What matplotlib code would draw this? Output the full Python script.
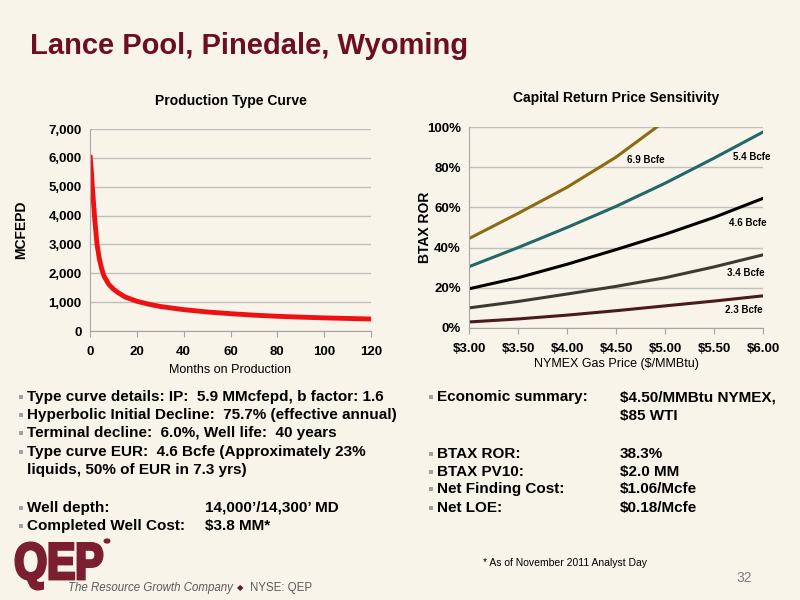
import numpy as np
import matplotlib
matplotlib.use("Agg")
from matplotlib import pyplot as plt
from matplotlib.textpath import TextPath
from matplotlib.patches import PathPatch, Circle
from matplotlib.font_manager import FontProperties
from matplotlib.transforms import Affine2D

# production type curve
months = [0, 0.5, 1, 2, 3, 4, 5, 6, 8, 10, 12, 15, 20, 25, 30, 40, 50, 60, 70, 80, 90, 100, 110, 120]
mcfepd = [6100, 5650, 5000, 3900, 3000, 2500, 2150, 1900, 1620, 1450, 1330, 1180, 1030, 930, 850,
          740, 660, 600, 550, 510, 480, 455, 435, 415]

# price sensitivity
prices = [3.00, 3.50, 4.00, 4.50, 5.00, 5.50, 6.00]
ror_69 = [44.5, 57, 70, 85, 103, 121, 140]
ror_54 = [30.5, 40, 50, 60.5, 72, 84.5, 97.5]
ror_46 = [19.5, 25, 31.7, 39, 46.6, 55, 64.5]
ror_34 = [10, 13.2, 16.9, 20.7, 25, 30.4, 36.4]
ror_23 = [3, 4.5, 6.4, 8.6, 11, 13.4, 16]
series_names = ["6.9 Bcfe", "5.4 Bcfe", "4.6 Bcfe", "3.4 Bcfe", "2.3 Bcfe"]

left_lines = [
    "Type curve details: IP:  5.9 MMcfepd, b factor: 1.6",
    "Hyperbolic Initial Decline:  75.7% (effective annual)",
    "Terminal decline:  6.0%, Well life:  40 years",
    "Type curve EUR:  4.6 Bcfe (Approximately 23%",
]
right_keys = ["Economic summary:", "BTAX ROR:", "BTAX PV10:", "Net Finding Cost:", "Net LOE:"]
right_vals = ["$4.50/MMBtu NYMEX,", "38.3%", "$2.0 MM", "$1.06/Mcfe", "$0.18/Mcfe"]

bg = "#f8f4ea"
maroon = "#6b0f24"
FONT = ["Liberation Sans", "DejaVu Sans"]
plt.rcParams["font.family"] = FONT

fig = plt.figure(figsize=(8, 6), dpi=100, facecolor=bg)


def px(x, y):
    return x / 800, 1 - y / 600


fig.text(*px(30, 46), "Lance Pool, Pinedale, Wyoming", fontsize=21, fontweight="bold",
         color=maroon, va="center", ha="left")

# ---- left chart
ax1 = fig.add_axes([90 / 800, 1 - 331 / 600, 281 / 800, 202 / 600], facecolor=bg)
ax1.plot(months, mcfepd, color="#ee1111", lw=3.5, solid_capstyle="butt")
ax1.set_xlim(0, 120)
ax1.set_ylim(0, 7000)
ax1.set_xticks(range(0, 121, 20))
ax1.set_yticks(range(0, 7001, 1000))
ax1.set_yticklabels(["{:,}".format(v) for v in range(0, 7001, 1000)])
ax1.grid(axis="y", color="#bfbfbf", lw=1)
ax1.set_axisbelow(True)
for s in ["top", "right"]:
    ax1.spines[s].set_visible(False)
for s in ["left", "bottom"]:
    ax1.spines[s].set_color("#a6a6a6")
ax1.tick_params(axis="y", length=0, pad=6, labelsize=9.5)
ax1.tick_params(axis="x", direction="out", length=4, color="#a6a6a6", pad=7, labelsize=9.5)
for lb in ax1.get_xticklabels() + ax1.get_yticklabels():
    lb.set_fontweight("bold")
ax1.set_title("Production Type Curve", fontsize=10, fontweight="bold", pad=17)
ax1.set_xlabel("Months on Production", fontsize=9, labelpad=4)
ax1.set_ylabel("MCFEPD", fontsize=10, fontweight="bold")
ax1.yaxis.set_label_coords(-0.221, 0.5)

# ---- right chart
ax2 = fig.add_axes([469 / 800, 1 - 328 / 600, 294 / 800, 201 / 600], facecolor=bg)
colors = ["#8c6a12", "#22686a", "#000000", "#3b3b33", "#4a1a1f"]
label_pos = [(4.80, 83.5), (5.89, 85), (5.84, 52.4), (5.82, 27.6), (5.80, 9)]
for vals, c, name, (lx, ly) in zip([ror_69, ror_54, ror_46, ror_34, ror_23], colors, series_names, label_pos):
    ax2.plot(prices, vals, color=c, lw=2.2)
    ax2.text(lx, ly, name, fontsize=7, fontweight="bold", ha="center", va="center")
ax2.set_xlim(3, 6)
ax2.set_ylim(0, 100)
ax2.set_xticks(prices)
ax2.set_xticklabels(["${:.2f}".format(p) for p in prices])
ax2.set_yticks(range(0, 101, 20))
ax2.set_yticklabels(["{}%".format(v) for v in range(0, 101, 20)])
ax2.grid(axis="y", color="#bfbfbf", lw=1)
ax2.set_axisbelow(True)
for s in ["top", "right"]:
    ax2.spines[s].set_visible(False)
for s in ["left", "bottom"]:
    ax2.spines[s].set_color("#a6a6a6")
ax2.tick_params(axis="y", length=0, pad=6, labelsize=9.5)
ax2.tick_params(axis="x", direction="out", length=4, color="#a6a6a6", pad=7, labelsize=9.5)
for lb in ax2.get_xticklabels() + ax2.get_yticklabels():
    lb.set_fontweight("bold")
ax2.set_title("Capital Return Price Sensitivity", fontsize=10, fontweight="bold", pad=18)
ax2.set_xlabel("NYMEX Gas Price ($/MMBtu)", fontsize=9, labelpad=2)
ax2.set_ylabel("BTAX ROR", fontsize=10, fontweight="bold")
ax2.yaxis.set_label_coords(-0.126, 0.5)


def bullet(x, y):
    fig.patches.append(plt.Rectangle(px(x - 2, y + 2), 4 / 800, 4 / 600, transform=fig.transFigure,
                                     facecolor="#a0a0a0", edgecolor="none"))


def body(x, y, s):
    fig.text(*px(x, y), s, fontsize=11, fontweight="bold", va="center")


# ---- left text block
ys = [397, 415, 433, 452]
for t, y in zip(left_lines, ys):
    bullet(21, y)
    body(27, y, t)
body(27, 470, "liquids, 50% of EUR in 7.3 yrs)")
bullet(21, 508)
body(27, 508, "Well depth:")
body(205, 508, "14,000\u2019/14,300\u2019 MD")
bullet(21, 526)
body(27, 526, "Completed Well Cost:")
body(205, 526, "$3.8 MM*")

# ---- right text block
rys = [397, 454, 472, 489, 508]
for k, v, y in zip(right_keys, right_vals, rys):
    bullet(431, y)
    body(437, y, k)
    body(620, y, v)
body(620, 416, "$85 WTI")

# ---- footer
fig.text(*px(483, 563), "* As of November 2011 Analyst Day", fontsize=7.5, va="center")
fig.text(*px(752, 578), "32", fontsize=10, color="#7f7f7f", ha="right", va="center")

# logo, squeezed to fit the box it takes on the slide
tp = TextPath((0, 0), "QEP", size=1, prop=FontProperties(family="Liberation Sans", weight="bold"))
ext = tp.get_extents()
sx = (86 / 800) / ext.width
sy = (46 / 600) / ext.height
tr = Affine2D().translate(-ext.x0, -ext.y0).scale(sx, sy).translate(16 / 800, 1 - 589 / 600)
fig.patches.append(PathPatch(tp, transform=tr + fig.transFigure, facecolor="#7b1e2e",
                             edgecolor="#7b1e2e", lw=2.2))
fig.patches.append(Circle(px(107, 541), 3.5 / 800, transform=fig.transFigure, facecolor="#7b1e2e",
                          edgecolor="none"))

fig.text(*px(68, 588), "The Resource Growth Company", fontsize=8.3, style="italic",
         color="#5a5a5a", va="center")
fig.text(*px(237, 588), "\u25c6", fontsize=6, family=["DejaVu Sans"], color="#5a1a2a", va="center")
fig.text(*px(250, 588), "NYSE: QEP", fontsize=8.3, color="#5a5a5a", va="center")

fig.savefig("out.png", dpi=100, facecolor=bg)
